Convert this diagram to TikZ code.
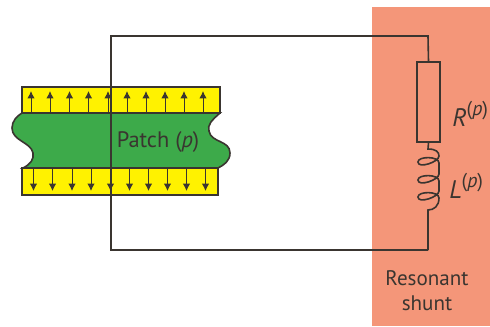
\documentclass[tikz,border=0pt]{standalone}
\usepackage{fontspec}
\setmainfont{PT Sans}
\usetikzlibrary{arrows.meta}
\definecolor{shuntc}{HTML}{F49679}
\definecolor{patchc}{HTML}{3DAA4A}
\definecolor{elecc}{HTML}{FFF200}
\definecolor{linec}{HTML}{3A3530}
\tikzset{
  wire/.style={draw=linec,line width=1.2pt},
  outl/.style={draw=linec,line width=1.2pt},
  pol/.style={draw=linec,line width=0.7pt,-{Latex[length=5.5pt,width=5.5pt]}},
  lab/.style={text=linec,inner sep=0pt,font=\fontsize{15.8}{18}\selectfont},
  patchlab/.style={text=linec,inner sep=0pt,font=\fontsize{16.8}{19}\selectfont},
  labb/.style={text=linec,inner sep=0pt,font=\fontsize{19}{21}\selectfont}
}
\begin{document}
\begin{tikzpicture}[x=0.75pt,y=-0.75pt]
\useasboundingbox (0,0) rectangle (490,326);
\fill[white] (0,0) rectangle (490,326);
\fill[shuntc] (372,7) rectangle (490,326);
% electrodes
\draw[outl,fill=elecc] (22,87) rectangle (220,113);
\draw[outl,fill=elecc] (22,168) rectangle (218,195);
% patch
\draw[outl,fill=patchc] (22,113) -- (220,113)
  .. controls (212,120) and (207,125) .. (209,131)
  .. controls (211,143) and (230,140) .. (230,153)
  .. controls (230,161) and (224,165) .. (218,168)
  -- (23,168)
  .. controls (31,164) and (34,159) .. (33,153)
  .. controls (31,142) and (12,141) .. (12,128)
  .. controls (12,121) and (17,116) .. (22,113) -- cycle;
% polarisation arrows
\foreach \x in {31,50,69.5,88.5,108,127,146,165,184,203}{
  \draw[pol] (\x,113) -- (\x,91);
}
\foreach \x in {33.5,52.5,72,91,110.5,129.5,148.5,167.5,186.5,205.5}{
  \draw[pol] (\x,168) -- (\x,191);
}
% circuit
\node[draw=linec,line width=1.2pt,minimum width=17pt,minimum height=60pt,inner sep=0pt] (R) at (428.5,102) {};
\coordinate (TL) at (111,36);
\coordinate (BL) at (111,250);
\coordinate (TR) at (428,36);
\coordinate (BR) at (428,250);
\draw[wire] (BR) -- (BL) -- (TL) -- (TR) -- (R.north);
\draw[wire] (R.south) -- (428,149)
  .. controls (436,149) and (439,152) .. (439,156)
  .. controls (439,162) and (418,169) .. (418,162)
  .. controls (418,156) and (439,156) .. (439,163)
  -- (439,174)
  .. controls (439,180) and (418,187) .. (418,180)
  .. controls (418,174) and (439,174) .. (439,181)
  -- (439,191)
  .. controls (439,197) and (418,204) .. (418,197)
  .. controls (418,191) and (439,191) .. (439,198)
  .. controls (439,206) and (434,210) .. (428,210) -- (BR);
% labels
\node[patchlab] (patch) at (158,142) {Patch (\textit{p})};
\node[labb,anchor=west] (rl) at (452,114) {\textit{R}\raisebox{0.42em}{\fontsize{15}{17}\selectfont(\textit{p})}};
\node[labb,anchor=west] (ll) at (449,186) {\textit{L}\raisebox{0.42em}{\fontsize{15}{17}\selectfont(\textit{p})}};
\node[lab] (s1) at (427,278) {Resonant};
\node[lab] (s2) at (427,303) {shunt};
\end{tikzpicture}
\end{document}
